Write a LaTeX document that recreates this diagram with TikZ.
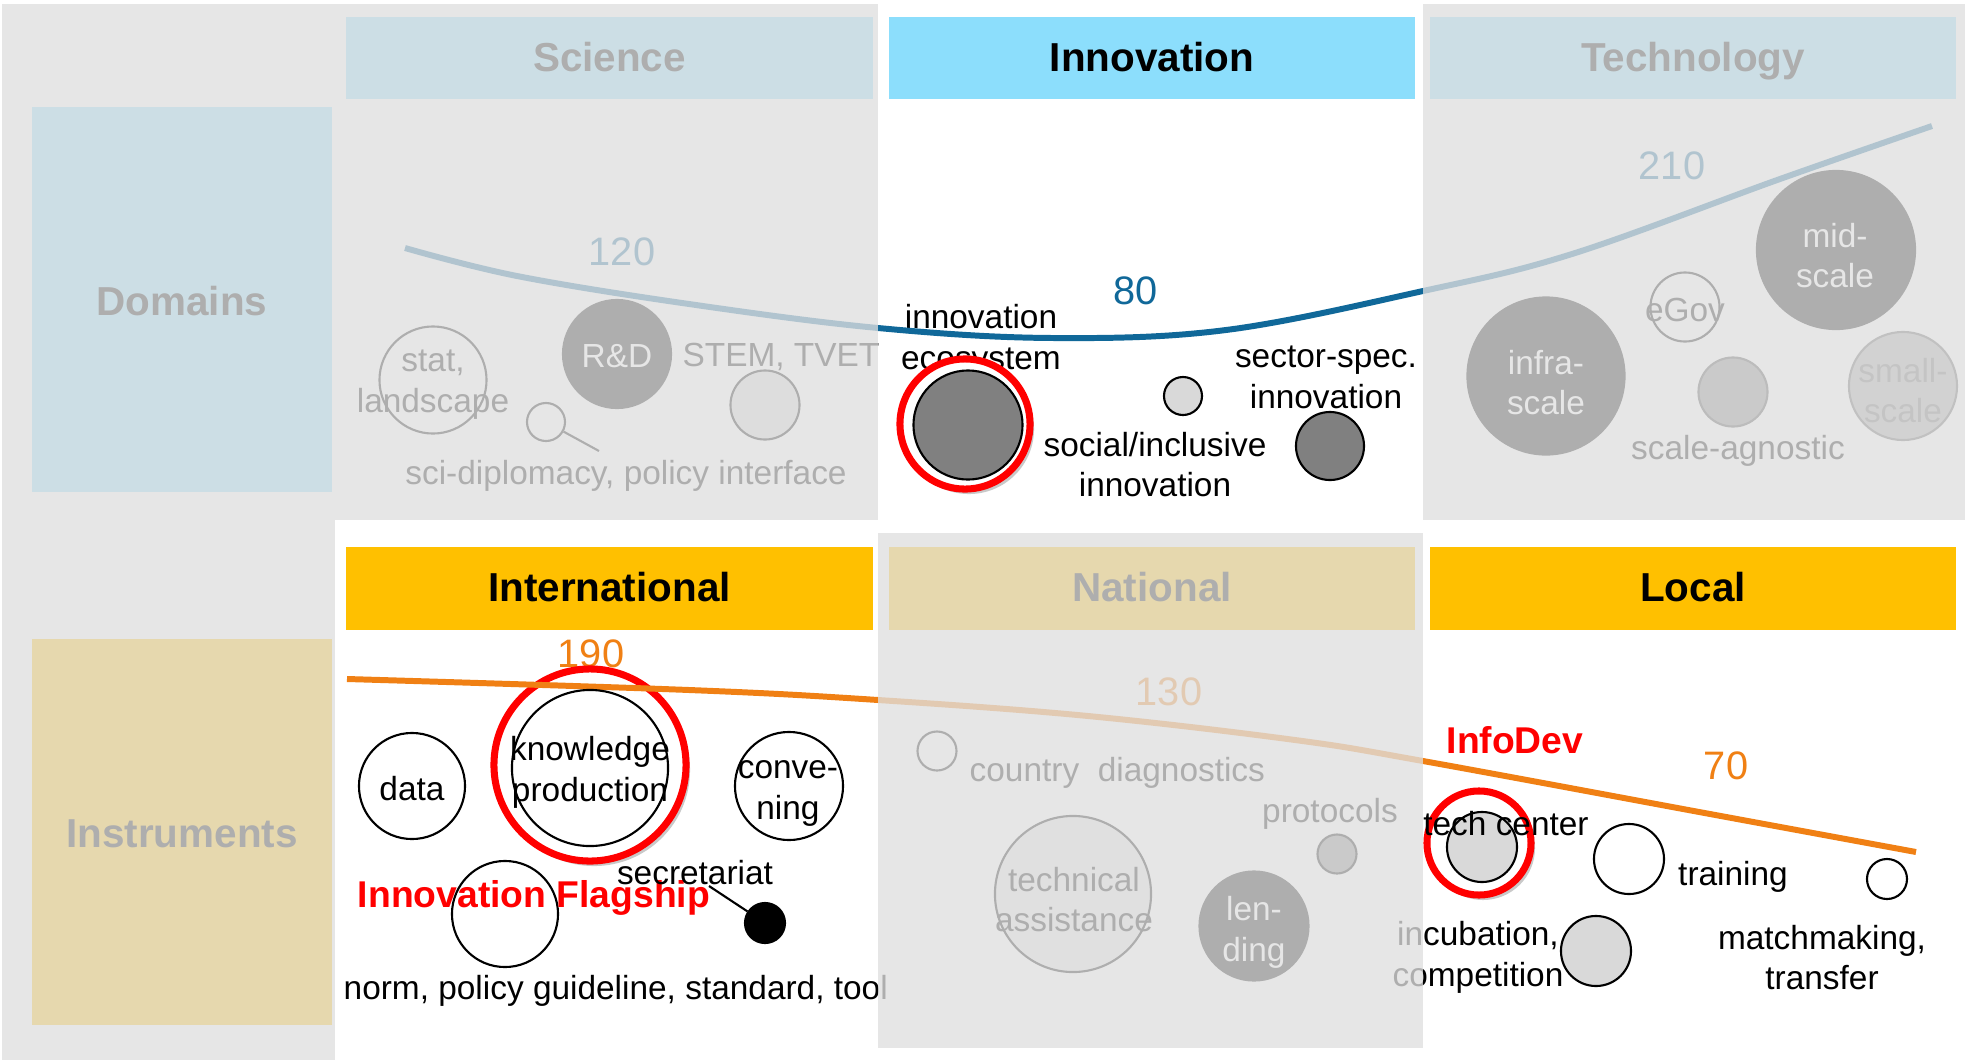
\documentclass[tikz,border=0pt]{standalone}
\usepackage{fontspec}
\setmainfont{Liberation Sans}
\usepackage{tikz}
\usetikzlibrary{shadows}

\definecolor{innoblue}{RGB}{140,222,252}
\definecolor{gold}{RGB}{255,192,0}
\definecolor{curveblue}{RGB}{16,104,153}
\definecolor{curveorange}{RGB}{240,128,20}
\definecolor{midgrey}{RGB}{128,128,128}
\definecolor{lightgrey}{RGB}{217,217,217}
\definecolor{veilgrey}{RGB}{223,223,223}
\newcommand{\bodyfont}{\fontsize{9.5}{11.6}\selectfont}
\newcommand{\hdrfont}{\fontsize{11.5}{13}\selectfont\bfseries}
\newcommand{\numfont}{\fontsize{11.3}{13}\selectfont}
\newcommand{\tagfont}{\fontsize{10.6}{12}\selectfont\bfseries}

\begin{document}
\begin{tikzpicture}[x=0.01cm, y=-0.01cm,
  hdr/.style={minimum width=5.26cm, minimum height=0.82cm, inner sep=0pt, font=\hdrfont,
    text height=0.76em, text depth=0pt},
  side/.style={minimum width=3cm, minimum height=3.85cm, inner sep=0pt, font=\hdrfont,
    text height=0.9em, text depth=0pt},
  lbl/.style={font=\bodyfont, align=center, inner sep=0pt, yshift=-0.025cm},
  num/.style={font=\numfont, inner sep=0pt},
  tag/.style={font=\tagfont, text=red, inner sep=0pt},
  bub/.style={circle, draw, line width=0.6pt, inner sep=0pt},
  ring/.style={circle, draw=red, line width=2pt, fill=white, inner sep=0pt,
    drop shadow={shadow xshift=0.04cm, shadow yshift=-0.05cm, opacity=0.35, fill=black!60}},
  veil/.style={fill=veilgrey, fill opacity=0.78}]
\useasboundingbox (0,0) rectangle (1965,1060);
\fill[white] (0,0) rectangle (1965,1060);

% headers
\node[side, fill=innoblue] (domains) at (182,299.5) {Domains};
\node[side, fill=gold] (instr) at (182,832) {Instruments};
\node[hdr, fill=innoblue] (science) at (609.5,58) {Science};
\node[hdr, fill=innoblue] (innov) at (1152,58) {Innovation};
\node[hdr, fill=innoblue] (techn) at (1693,58) {Technology};
\node[hdr, fill=gold] (intl) at (609.5,588.5) {International};
\node[hdr, fill=gold] (natl) at (1152,588.5) {National};
\node[hdr, fill=gold] (local) at (1693,588.5) {Local};

% science
\node[bub, minimum size=1.07cm] (stat) at (433,380) {};
\node[lbl] (statl) at (433,382) {stat,\\landscape};
\node[bub, fill=black, minimum size=1.08cm] (rnd) at (617,354) {};
\node[lbl, text=white] (rndl) at (rnd) {R\&D};
\node[lbl] (stem) at (781,354) {STEM, TVET};
\node[bub, fill=lightgrey, minimum size=0.69cm] (stemdot) at (765,405) {};
\node[bub, minimum size=0.38cm] (scidot) at (546,422) {};
\coordinate (scitip) at (599,451);
\draw[line width=0.6pt] (scidot) -- (scitip);
\node[lbl] (sci) at (626,473) {sci-diplomacy, policy interface};

% innovation
\node[lbl] (ecol) at (981,338) {innovation\\ecosystem};
\node[ring, minimum size=1.30cm] (ecoring) at (965,424) {};
\node[bub, fill=midgrey, minimum size=1.09cm] (eco) at (968,425) {};
\node[bub, fill=lightgrey, minimum size=0.38cm] (smalldot) at (1183,396) {};
\node[lbl] (sectl) at (1326,375) {sector-spec.\\innovation};
\node[bub, fill=midgrey, minimum size=0.68cm] (sect) at (1330,446) {};
\node[lbl] (socl) at (1155,462) {social/inclusive\\innovation};

% technology
\node[bub, fill=black, minimum size=1.57cm] (infra) at (1546,376) {};
\node[lbl, text=white] (infral) at (1546,380) {infra-\\scale};
\node[bub, fill=white, minimum size=0.69cm] (egov) at (1685,307) {};
\node[lbl] (egovl) at (egov) {eGov};
\node[bub, fill=black, minimum size=1.58cm] (mid) at (1836,250) {};
\node[lbl, text=white] (midl) at (1835,253) {mid-\\scale};
\node[bub, draw=black!75, fill=midgrey, minimum size=0.69cm] (agn) at (1733,392) {};
\node[lbl] (agnl) at (1738,448) {scale-agnostic};
\node[bub, draw=black!65, fill=black!35, minimum size=1.08cm] (small) at (1903,386) {};
\node[lbl, text=black!60] (smalll) at (1903,388) {small-\\scale};

% domain curve
\draw[curveblue, line width=1.7pt] plot[smooth, tension=0.6] coordinates {(405,248) (517,276) (689,304) (878,328) (1053,338) (1226,330) (1423,291) (1572,254) (1780,179) (1932,126)};
\node[num, text=curveblue] (n120) at (622,252) {120};
\node[num, text=curveblue] (n80) at (1136,291) {80};
\node[num, text=curveblue] (n210) at (1672,166) {210};

% instruments
\node[num, text=curveorange] (n190) at (591,654) {190};
\node[ring, minimum size=1.92cm] (kpring) at (590,765) {};
\node[ring, minimum size=1.04cm] (tcring) at (1479,843) {};
\draw[curveorange, line width=1.7pt] plot[smooth, tension=0.6] coordinates {(347,679) (689,690) (878,700) (1088,716) (1295,740) (1423,761) (1710,814) (1916,852)};
\node[num, text=curveorange] (n130) at (1169,692) {130};
\node[num, text=curveorange] (n70) at (1726,766) {70};

% international
\node[bub, fill=white, minimum size=1.56cm] (kp) at (590,768) {};
\node[lbl] (kpl) at (590,770) {knowledge\\production};
\node[bub, fill=white, minimum size=1.06cm] (data) at (412,786) {};
\node[lbl] (datal) at (data) {data};
\node[bub, fill=white, minimum size=1.08cm] (conv) at (789,786) {};
\node[lbl] (convl) at (788,791) {conve-\\ning};
\node[bub, minimum size=1.06cm] (norm) at (505,914) {};
\node[tag] (flag) at (534,898) {Innovation Flagship};
\node[lbl] (secr) at (695,870) {secretariat};
\node[bub, fill=black, minimum size=0.40cm] (sdot) at (765,923) {};
\coordinate (secrtip) at (709,886);
\draw[line width=0.6pt] (secrtip) -- (sdot);
\node[lbl, anchor=west] (norml) at (343,988) {norm, policy guideline, standard, tool};

% national
\node[bub, fill=white, minimum size=0.39cm] (ctry) at (937,751) {};
\node[lbl, anchor=west] (ctryl) at (969,770) {country\ \ diagnostics};
\node[bub, fill=black!10, minimum size=1.56cm] (ta) at (1073,894) {};
\node[lbl] (tal) at (1074,897) {technical\\assistance};
\node[bub, fill=black, minimum size=1.09cm] (lend) at (1254,926) {};
\node[lbl, text=white] (lendl) at (1254,930) {len-\\ding};
\node[lbl] (protl) at (1330,811) {protocols};
\node[bub, fill=midgrey, minimum size=0.39cm] (prot) at (1337,854) {};

% local
\node[bub, fill=lightgrey, minimum size=0.70cm] (tc) at (1482,847) {};
\node[lbl] (tcl) at (1506,821) {tech center};
\node[tag] (infodev) at (1515,740) {InfoDev};
\node[bub, fill=white, minimum size=0.70cm] (train) at (1629,859) {};
\node[lbl] (trainl) at (1733,874) {training};
\node[bub, fill=white, minimum size=0.40cm] (mm) at (1887,879) {};
\node[lbl] (mml) at (1822,955) {matchmaking,\\transfer};
\node[bub, fill=lightgrey, minimum size=0.70cm] (incu) at (1596,951) {};
\node[lbl] (incul) at (1478,955) {incubation,\\competition};

% faded areas
\fill[veil] (2,4) rectangle (335,1060);
\fill[veil] (335,4) rectangle (878,520);
\fill[veil] (1423,4) rectangle (1965,520);
\fill[veil] (878,533) rectangle (1423,1048);
\end{tikzpicture}
\end{document}
